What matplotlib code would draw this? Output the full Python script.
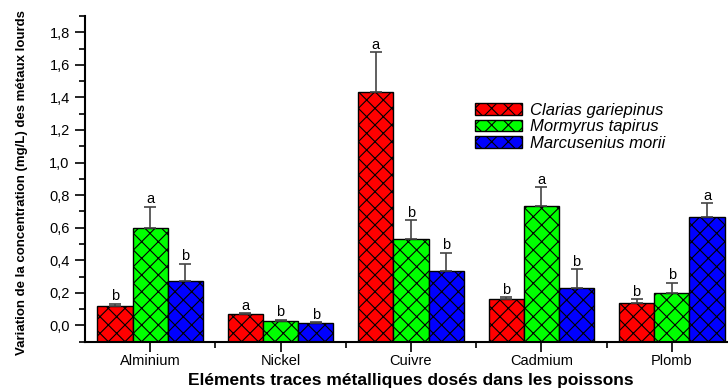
import numpy as np
import matplotlib.pyplot as plt
from matplotlib.ticker import FuncFormatter, MultipleLocator

plt.rcParams['font.family'] = ['Liberation Sans', 'DejaVu Sans']
plt.rcParams['hatch.linewidth'] = 0.8

elements = ['Alminium', 'Nickel', 'Cuivre', 'Cadmium', 'Plomb']
species = ['Clarias gariepinus', 'Mormyrus tapirus', 'Marcusenius morii']
colors = ['#ff0000', '#00ff00', '#0000ff']

# mean concentrations (mg/L) per species, one value per element
clarias = [0.12, 0.07, 1.435, 0.16, 0.14]
mormyrus = [0.60, 0.03, 0.533, 0.734, 0.199]
marcusenius = [0.27, 0.015, 0.334, 0.232, 0.668]

# upper standard deviations
clarias_sd = [0.013, 0.006, 0.242, 0.014, 0.02]
mormyrus_sd = [0.13, 0.006, 0.113, 0.113, 0.064]
marcusenius_sd = [0.11, 0.003, 0.113, 0.112, 0.084]

# significance letters
clarias_lbl = ['b', 'a', 'a', 'b', 'b']
mormyrus_lbl = ['a', 'b', 'b', 'a', 'b']
marcusenius_lbl = ['b', 'b', 'b', 'b', 'a']

values = [clarias, mormyrus, marcusenius]
sds = [clarias_sd, mormyrus_sd, marcusenius_sd]
letters = [clarias_lbl, mormyrus_lbl, marcusenius_lbl]


def main():
    fig = plt.figure(figsize=(7.28, 3.89), dpi=100)
    ax = fig.add_axes([85 / 728, 47.3 / 389, 652 / 728, 325.7 / 389])

    ymin = -0.1
    x = np.arange(len(elements))
    w = 0.27

    for i in range(3):
        xs = x + (i - 1) * w
        v = np.array(values[i])
        ax.bar(xs, v - ymin, w, bottom=ymin, color=colors[i], edgecolor='black',
               linewidth=1.0, hatch='xx', label=species[i], zorder=2)
        sd = np.array(sds[i])
        ax.errorbar(xs, v, yerr=[np.zeros_like(sd), sd], fmt='none', ecolor='#444444',
                    elinewidth=1.2, capsize=4, capthick=1.2, zorder=3)
        for xi, vi, si, lb in zip(xs, v, sd, letters[i]):
            ax.annotate(lb, (xi, vi + si), xytext=(0, 0.3), textcoords='offset points',
                        ha='center', va='bottom', fontsize=10.5)

    ax.set_xlim(-0.5, 4.5)
    ax.set_ylim(ymin, 1.9)
    ax.set_xticks(x)
    ax.set_xticklabels(elements, fontsize=10.5)
    ax.set_xticks(x[:-1] + 0.5, minor=True)
    ax.set_yticks(np.arange(0, 1.81, 0.2))
    ax.yaxis.set_minor_locator(MultipleLocator(0.1))
    ax.yaxis.set_major_formatter(FuncFormatter(lambda v, p: f'{v:.1f}'.replace('.', ',')))
    ax.tick_params(axis='y', labelsize=10.5, pad=4)
    ax.tick_params(axis='x', pad=1.5)
    ax.tick_params(which='major', length=7, width=1.2, direction='out')
    ax.tick_params(which='minor', length=4, width=1.2, direction='out')

    ax.spines['top'].set_visible(False)
    ax.spines['right'].set_visible(False)
    ax.spines['left'].set_linewidth(1.5)
    ax.spines['bottom'].set_linewidth(1.5)

    ax.set_xlabel('Eléments traces métalliques dosés dans les poissons',
                  fontsize=12.5, fontweight='bold', va='center')
    ax.xaxis.set_label_coords(0.5, -38.5 / 325.7)
    fig.text(22 / 728, 1 - 183 / 389,
             'Variation de la concentration (mg/L) des métaux lourds',
             rotation=90, ha='center', va='center', fontsize=9.5, fontweight='bold',
             family=['Liberation Sans Narrow', 'Liberation Sans'])

    leg = ax.legend(loc='upper left', bbox_to_anchor=(475 / 728, 1 - 103 / 389),
                    bbox_transform=fig.transFigure, frameon=False, fontsize=12,
                    handlelength=2.8, handleheight=0.7, handletextpad=0.5,
                    labelspacing=0.08, borderpad=0, borderaxespad=0)
    for t in leg.get_texts():
        t.set_fontstyle('italic')

    fig.savefig('out.png', dpi=100)


if __name__ == "__main__":
    main()
